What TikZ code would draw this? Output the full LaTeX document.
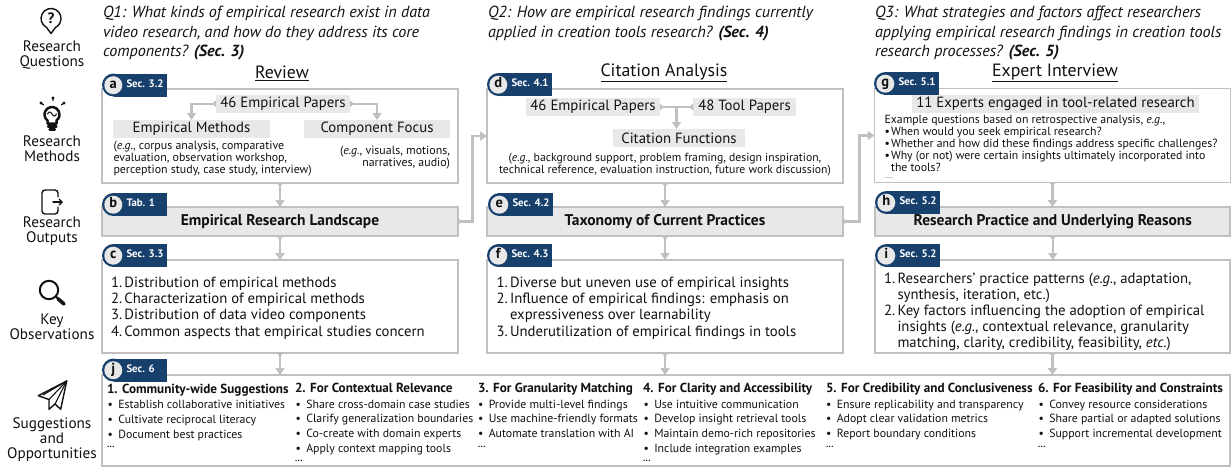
\documentclass[tikz,border=0pt]{standalone}
\usepackage{fontspec}
\setmainfont{PT Sans}
\usetikzlibrary{arrows.meta,calc}
\definecolor{navy}{HTML}{17406D}
\definecolor{edgegray}{HTML}{C0C0C0}
\definecolor{fillgray}{HTML}{E8E8E8}
\definecolor{ink}{HTML}{111111}
\newcommand{\fsz}[2]{\fontsize{#1}{#2}\selectfont}
\newcommand{\tdots}{.\kern0.5pt.\kern0.5pt.}
\tikzset{
  every node/.style={text=ink,inner sep=0pt,outer sep=0pt},
  obox/.style={draw=edgegray,line width=1.9pt,fill=white,anchor=north west},
  fbox/.style={draw=edgegray,line width=2.2pt,fill=fillgray,anchor=north west,font=\fsz{15.5}{17}\bfseries},
  gbox/.style={fill=fillgray,anchor=north west,font=\fsz{14.8}{17}},
  qtxt/.style={anchor=north west,align=left,font=\fsz{16.1}{19.4}\itshape},
  ttl/.style={font=\fsz{17.8}{20}},
  side/.style={align=center,font=\fsz{15.2}{14.8}},
  ex/.style={anchor=north west,align=left,font=\fsz{11.9}{11.7}},
  obs/.style={anchor=north west,align=left,font=\fsz{14.75}{16.2}},
  hd/.style={anchor=mid west,yshift=-0.7pt,font=\fsz{13.15}{14}\bfseries},
  litem/.style={anchor=mid west,yshift=-0.7pt,font=\fsz{11.8}{14}},
  dotsnode/.style={anchor=base west,font=\fsz{9}{9}\bfseries},
  flow/.style={draw=edgegray,line width=2.4pt,{Triangle[width=6.5pt,length=4pt,reversed]}-{Triangle[width=9pt,length=7pt]}},
  plain/.style={draw=edgegray,line width=2.4pt},
  tailonly/.style={draw=edgegray,line width=2.4pt,{Triangle[width=6.5pt,length=4pt,reversed]}-{Triangle[width=6.5pt,length=4pt,reversed]}},
  ico/.style={draw=ink,line width=1.4pt,line join=round,line cap=round},
}
\newcommand{\tagbadge}[5]{%
  \fill[navy] (#2+11.5,#3+11.5) circle (11.5pt);
  \fill[navy] (#2+11.5,#3) rectangle (#2+65,#3+23);
  \node[circle,fill=fillgray,minimum size=18pt,font=\fsz{14.5}{14}\bfseries,text height=8pt,text depth=1.5pt] (#1c) at (#2+11.3,#3+11.7) {#4};
  \node[anchor=mid west,text=white,font=\fsz{10.8}{11}\bfseries] (#1t) at (#2+24.5,#3+11) {#5};
}
\newcommand{\li}[4]{\node[litem] (#1) at (#2,#3) {\makebox[10.8pt][l]{•}#4};}
\begin{document}
\begin{tikzpicture}[x=1pt,y=-1pt]
\useasboundingbox[fill=white] (0,0) rectangle (1231,467);

% ---------- questions
\node[qtxt] (q1) at (103,6.5) {Q1: What kinds of empirical research exist in data\\video research, and how do they address its core\\components? {\bfseries (Sec. 3)}};
\node[qtxt] (q2) at (488,6.5) {Q2: How are empirical research findings currently\\applied in creation tools research? {\bfseries (Sec. 4)}};
\node[qtxt] (q3) at (875,6.5) {Q3: What strategies and factors affect researchers\\applying empirical research findings in creation tools\\research processes? {\bfseries (Sec. 5)}};

% ---------- titles
\node[ttl] (t1) at (282,73) {$\underline{\hbox{Review}}$};
\node[ttl] (t2) at (664,73) {$\underline{\hbox{Citation Analysis}}$};
\node[ttl] (t3) at (1055,73) {$\underline{\hbox{Expert Interview}}$};

% ---------- side labels
\node[side] (s1) at (52,55) {Research\\Questions};
\node[side] (s2) at (52,149) {Research\\Methods};
\node[side] (s3) at (52,231.5) {Research\\Outputs};
\node[side] (s4) at (52,326.5) {Key\\Observations};
\node[side] (s5) at (52,439.5) {Suggestions\\and\\Opportunities};

% ---------- main boxes
\node[obox,minimum width=356pt,minimum height=94pt] (a) at (102,89) {};
\node[fbox,minimum width=356pt,minimum height=29pt] (b) at (102,207) {Empirical Research Landscape};
\node[obox,minimum width=356pt,minimum height=93pt] (c) at (102,260) {};
\node[obox,minimum width=356pt,minimum height=94pt] (d) at (487,89) {};
\node[fbox,minimum width=356pt,minimum height=29pt] (e) at (487,207) {Taxonomy of Current Practices};
\node[obox,minimum width=356pt,minimum height=93pt] (f) at (487,260) {};
\node[obox,minimum width=356pt,minimum height=94pt] (g) at (874.5,88.5) {};
\node[fbox,minimum width=355.5pt,minimum height=29pt] (h) at (875,207) {Research Practice and Underlying Reasons};
\node[obox,minimum width=355pt,minimum height=93pt] (i) at (875,260) {};
\node[obox,minimum width=1128pt,minimum height=91pt] (j) at (102,375) {};

% ---------- grey labels
\node[gbox,minimum width=134pt,minimum height=17.5pt] (pa) at (216,95) {46 Empirical Papers};
\node[gbox,minimum width=157pt,minimum height=18pt] (ma) at (113,120) {Empirical Methods};
\node[gbox,minimum width=146pt,minimum height=18pt] (fa) at (304,120) {Component Focus};
\node[gbox,minimum width=134pt,minimum height=18pt] (pd) at (526,98) {46 Empirical Papers};
\node[gbox,minimum width=103pt,minimum height=18pt] (td) at (693,98) {48 Tool Papers};
\node[gbox,minimum width=132pt,minimum height=18pt] (cd) at (613,129) {Citation Functions};
\node[gbox,minimum width=287pt,minimum height=18pt] (eg) at (912,95) {11 Experts engaged in tool-related research};

% ---------- connectors
\draw[flow] (a.south) -- (b.north);
\draw[flow] (b.south) -- (c.north);
\draw[flow] (d.south) -- (e.north);
\draw[flow] (e.south) -- (f.north);
\draw[flow] (g.south) -- (g.south |- h.north);
\draw[flow] (h.south) -- (h.south |- i.north);
\draw[flow] (c.south) -- (c.south |- j.north);
\draw[flow] (f.south) -- (f.south |- j.north);
\draw[flow] (i.south) -- (i.south |- j.north);
\draw[flow] (b.east) -- ++(14.5,0) |- (d.west);
\draw[flow] (e.east) -- ++(16.5,0) |- (g.west);
\draw[flow] (pa.west) -| (ma.north);
\draw[flow] (pa.east) -| (fa.north);
\draw[tailonly] (pd.east) -- (td.west);
\coordinate (jn) at ($(pd.east)!.5!(td.west)$);
\draw[plain,-{Triangle[width=9pt,length=7pt]}] (jn) -- (jn |- cd.north);

% ---------- box a, d, g text
\node[ex] (xa1) at (113.5,141.5) {(\textit{e.g.}, corpus analysis, comparative\\evaluation, observation workshop,\\perception study, case study, interview)};
\node[ex,anchor=north east,align=right] (xa2) at (450,146.5) {(\textit{e.g.}, visuals, motions,\\narratives, audio)};
\node[ex,anchor=north,align=center,font=\fsz{11.7}{11.7}] (xd) at (665,153) {(\textit{e.g.}, background support, problem framing, design inspiration,\\technical reference, evaluation instruction, future work discussion)};
\node[ex,font=\fsz{11.8}{11.8}] (xg) at (884.5,115.5) {Example questions based on retrospective analysis, \textit{e.g.},\\%
\makebox[6.5pt][l]{•}When would you seek empirical research?\\%
\makebox[6.5pt][l]{•}Whether and how did these findings address specific challenges?\\%
\makebox[6.5pt][l]{•}Why (or not) were certain insights ultimately incorporated into\\%
\hspace*{6.5pt}the tools?};
\node[anchor=base west,font=\fsz{6}{7}] (xg2) at (885,178.5) {.....};

% ---------- observations
\node[obs] (oc) at (111,277) {\makebox[13.5pt][l]{1.}Distribution of empirical methods\\\makebox[13.5pt][l]{2.}Characterization of empirical methods\\\makebox[13.5pt][l]{3.}Distribution of data video components\\\makebox[13.5pt][l]{4.}Common aspects that empirical studies concern};
\node[obs] (of) at (496.5,277) {\makebox[13.5pt][l]{1.}Diverse but uneven use of empirical insights\\\makebox[13.5pt][l]{2.}Influence of empirical findings: emphasis on\\\hspace*{13.5pt}expressiveness over learnability\\\makebox[13.5pt][l]{3.}Underutilization of empirical findings in tools};
\node[obs] (oi) at (884,272.5) {\makebox[13.5pt][l]{1.}Researchers’ practice patterns (\textit{e.g.}, adaptation,\\\hspace*{13.5pt}synthesis, iteration, etc.)\\\makebox[13.5pt][l]{2.}Key factors influencing the adoption of empirical\\\hspace*{13.5pt}insights (\textit{e.g.}, contextual relevance, granularity\\\hspace*{13.5pt}matching, clarity, credibility, feasibility, \textit{etc.})};

% ---------- suggestions
\node[hd] (h1) at (107,390) {1. Community-wide Suggestions};
\li{i1a}{107.5}{405.5}{Establish collaborative initiatives}
\li{i1b}{107.5}{420.5}{Cultivate reciprocal literacy}
\li{i1c}{107.5}{435}{Document best practices}
\node[dotsnode] (i1d) at (107,447.5) {\tdots};
\node[hd] (h2) at (295,389.5) {2. For Contextual Relevance};
\li{i2a}{295.5}{405}{Share cross-domain case studies}
\li{i2b}{295.5}{419.5}{Clarify generalization boundaries}
\li{i2c}{295.5}{434}{Co-create with domain experts}
\li{i2d}{295.5}{449}{Apply context mapping tools}
\node[dotsnode] (i2e) at (295,461.5) {\tdots};
\node[hd] (h3) at (478,389.5) {3. For Granularity Matching};
\li{i3a}{478}{405}{Provide multi-level findings}
\li{i3b}{478}{419.5}{Use machine-friendly formats}
\li{i3c}{478}{434}{Automate translation with AI}
\node[dotsnode] (i3d) at (478,447) {\tdots};
\node[hd] (h4) at (643,389.5) {4. For Clarity and Accessibility};
\li{i4a}{643.5}{405}{Use intuitive communication}
\li{i4b}{643.5}{419.5}{Develop insight retrieval tools}
\li{i4c}{643.5}{434}{Maintain demo-rich repositories}
\li{i4d}{643.5}{449}{Include integration examples}
\node[dotsnode] (i4e) at (643,461.5) {\tdots};
\node[hd] (h5) at (826,389.5) {5. For Credibility and Conclusiveness};
\li{i5a}{826}{405}{Ensure replicability and transparency}
\li{i5b}{826}{419.5}{Adopt clear validation metrics}
\li{i5c}{826}{434}{Report boundary conditions}
\node[dotsnode] (i5d) at (826,447) {\tdots};
\node[hd] (h6) at (1038,389.5) {6. For Feasibility and Constraints};
\li{i6a}{1038.5}{405}{Convey resource considerations}
\li{i6b}{1038.5}{419.5}{Share partial or adapted solutions}
\li{i6c}{1038.5}{434}{Support incremental development}
\node[dotsnode] (i6d) at (1038,447) {\tdots};

% ---------- badges
\tagbadge{ba}{102}{73.5}{a}{Sec. 3.2}
\tagbadge{bb}{102}{193}{b}{Tab. 1}
\tagbadge{bc}{102}{244}{c}{Sec. 3.3}
\tagbadge{bd}{487}{73}{d}{Sec. 4.1}
\tagbadge{be}{488}{193}{e}{Sec. 4.2}
\tagbadge{bf}{487}{244}{f}{Sec. 4.3}
\tagbadge{bg}{874}{72}{g}{Sec. 5.1}
\tagbadge{bh}{875}{191}{h}{Sec. 5.2}
\tagbadge{bi}{875}{244}{i}{Sec. 5.2}
\tagbadge{bj}{102}{358.5}{j}{Sec. 6}

% ---------- icons
% question
\draw[ico] (46.5,27.4) arc[start angle=243,end angle=-63,radius=10pt] -- (51,33.5) -- cycle;
\node[font=\fsz{15}{15}\bfseries] (qm) at (51,18) {?};
% bulb
\draw[ico,line width=2.5pt] (47.5,123.5) -- (47.5,120.5) arc[start angle=233,end angle=-53,radius=7.5pt] -- (56.5,123.5) -- cycle;
\draw[ico,line width=2.2pt] (48,126.5) -- (56.5,126.5);
\draw[ico,line width=2.2pt] (49.5,129.5) -- (55,129.5);
\draw[ico,line width=1pt] (47.5,114) .. controls (49,111) and (50.5,111.5) .. (52,114) .. controls (53.5,116.5) and (55,117) .. (56.5,114);
\fill[ink] (53,98) circle (1.6pt) (41,103) circle (1.6pt) (64,103) circle (1.6pt);
\draw[ico,line width=1.3pt] (53,98) -- (53,100.5) (41,103) -- (43.5,104.8) (64,103) -- (61.5,104.8);
% exit
\draw[ico,rounded corners=3pt] (58,197) -- (58,190) -- (42,190) -- (42,214) -- (58,214) -- (58,207);
\draw[ico,-{Straight Barb[length=3pt,width=6pt]}] (53,202) -- (63,202);
% magnifier
\draw[ico,line width=2pt] (49,290) circle (9.2pt);
\draw[ico,line width=2pt] (55.8,296.5) -- (58,298.5);
\draw[ico,line width=3.6pt] (58,298.8) -- (64,304);
% plane
\draw[ico] (66.7,381) -- (38.3,395.7) -- (49,399.5) -- (49,409.3) -- (55,404) -- (60.7,409.3) -- cycle;
\draw[ico,line width=1.1pt] (66.7,381) -- (49,399.5);
\draw[ico,line width=1.1pt] (66.7,381) -- (43,395);
\draw[ico,line width=1.1pt] (66.7,381) -- (55,404);
\end{tikzpicture}
\end{document}
